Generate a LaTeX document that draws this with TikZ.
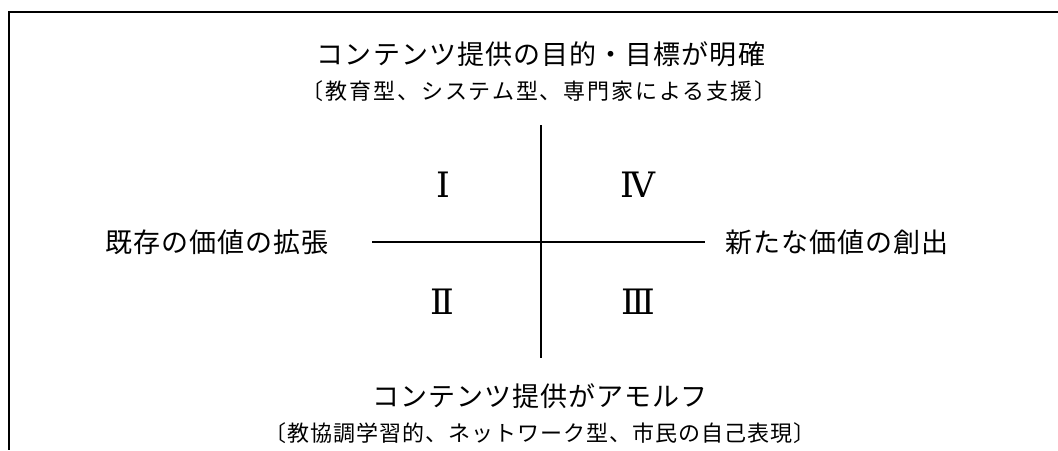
\documentclass[tikz,border=0pt]{standalone}
\usepackage{fontspec}
\newfontfamily\jptitle[LetterSpace=4]{Noto Sans CJK JP}
\newfontfamily\jpsubA[LetterSpace=8.6]{Noto Sans CJK JP}
\newfontfamily\jpsubB[LetterSpace=4.5]{Noto Sans CJK JP}
\newfontfamily\numfont{DejaVu Serif}
\begin{document}
\begin{tikzpicture}[x=1pt,y=-1pt]
\tikzset{
  frameline/.style={line width=1.5pt},
  axisline/.style={line width=1.3pt},
  ttl/.style={inner sep=0pt, font=\fontsize{27}{27}\selectfont\jptitle},
  subA/.style={inner sep=0pt, font=\fontsize{22}{22}\selectfont\jpsubA},
  subB/.style={inner sep=0pt, font=\fontsize{22}{22}\selectfont\jpsubB},
  num/.style={inner sep=0pt, font=\fontsize{35}{35}\selectfont\numfont},
}
\useasboundingbox (0,0) rectangle (1058,450);
\coordinate (tl) at (9,12);
\coordinate (tr) at (1058,12);
\coordinate (bl) at (9,450);
\draw[frameline] (tr) -- (tl) -- (bl);
\coordinate (vt) at (541,125);
\coordinate (vb) at (541,358);
\coordinate (hl) at (372,242);
\coordinate (hr) at (705,242);
\draw[axisline] (vt) -- (vb);
\draw[axisline] (hl) -- (hr);
\node[ttl] (top) at (541,54) {コンテンツ提供の目的・目標が明確};
\node[subA] (topsub) at (539,91) {〔教育型、システム型、専門家による支援〕};
\node[ttl] (bot) at (540,396) {コンテンツ提供がアモルフ};
\node[subB] (botsub) at (540,433) {〔教協調学習的、ネットワーク型、市民の自己表現〕};
\node[ttl] (left) at (217,242) {既存の価値の拡張};
\node[ttl] (right) at (837,242) {新たな価値の創出};
\node[num] (q1) at (443,185) {Ⅰ};
\node[num] (q4) at (638,185) {Ⅳ};
\node[num] (q2) at (442,302) {Ⅱ};
\node[num] (q3) at (638,302) {Ⅲ};
\end{tikzpicture}
\end{document}
